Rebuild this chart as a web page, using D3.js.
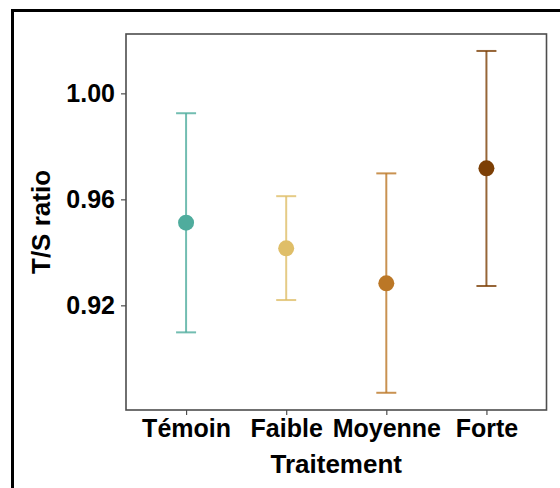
<!DOCTYPE html>
<html><head><meta charset="utf-8">
<script src="https://cdn.jsdelivr.net/npm/d3@7"></script>
<style>
html,body{margin:0;padding:0;background:#fff;}
svg text{font-family:"Liberation Sans",Arial,Helvetica,sans-serif;font-weight:bold;fill:#000;}
</style></head>
<body>
<svg id="c" width="560" height="488"></svg>
<script>
const categories = ["Témoin", "Faible", "Moyenne", "Forte"];
const means = [0.9512, 0.9415, 0.9283, 0.9717];
const lower = [0.9098, 0.9220, 0.8870, 0.9273];
const upper = [0.9925, 0.9612, 0.9698, 1.0160];
const colors = ["#4fac9d", "#dfbe68", "#bb7726", "#7c3f05"];
const yTicks = [0.92, 0.96, 1.00];
const yDomain = [0.8805, 1.0224];

const svg = d3.select("#c");
const L = 126, R = 546.5, T = 34, B = 410;

// outer frame
svg.append("rect").attr("x", 12.5).attr("y", 10.5).attr("width", 600).attr("height", 600)
  .attr("fill", "none").attr("stroke", "#000").attr("stroke-width", 3);

const x = d3.scalePoint().domain(categories).range([L, R]).padding(0.6);
const y = d3.scaleLinear().domain(yDomain).range([B, T]);

// panel
svg.append("rect").attr("x", L).attr("y", T).attr("width", R - L).attr("height", B - T)
  .attr("fill", "#fff").attr("stroke", "#4d4d4d").attr("stroke-width", 1.6);

// axes
const yAxis = svg.append("g").attr("transform", `translate(${L},0)`)
  .call(d3.axisLeft(y).tickValues(yTicks).tickFormat(d3.format(".2f")).tickSize(5).tickPadding(6));
const xAxis = svg.append("g").attr("transform", `translate(0,${B})`)
  .call(d3.axisBottom(x).tickSize(5).tickPadding(4));
[yAxis, xAxis].forEach(g => {
  g.select(".domain").remove();
  g.selectAll(".tick line").attr("stroke", "#4d4d4d").attr("stroke-width", 1.2);
  g.selectAll(".tick text").style("font-size", "25px").attr("fill", "#000");
});
xAxis.selectAll(".tick text").attr("dy", "0.73em");

// error bars and points
const data = categories.map((c, i) => ({c, m: means[i], lo: lower[i], hi: upper[i], col: colors[i]}));
const gE = svg.append("g");
const cap = 10;
data.forEach(d => {
  const g = gE.append("g").attr("stroke", d.col).attr("stroke-width", 2).attr("stroke-opacity", 0.8);
  g.append("line").attr("x1", x(d.c)).attr("x2", x(d.c)).attr("y1", y(d.lo)).attr("y2", y(d.hi));
  g.append("line").attr("x1", x(d.c) - cap).attr("x2", x(d.c) + cap).attr("y1", y(d.lo)).attr("y2", y(d.lo));
  g.append("line").attr("x1", x(d.c) - cap).attr("x2", x(d.c) + cap).attr("y1", y(d.hi)).attr("y2", y(d.hi));
});
svg.append("g").selectAll("circle").data(data).join("circle")
  .attr("cx", d => x(d.c)).attr("cy", d => y(d.m)).attr("r", 8).attr("fill", d => d.col);

// axis titles
svg.append("text").attr("x", (L + R) / 2).attr("y", 473).attr("text-anchor", "middle")
  .style("font-size", "26px").text("Traitement");
svg.append("text").attr("transform", `translate(50,${(T + B) / 2}) rotate(-90)`).attr("text-anchor", "middle")
  .style("font-size", "26px").text("T/S ratio");
</script>
</body></html>
